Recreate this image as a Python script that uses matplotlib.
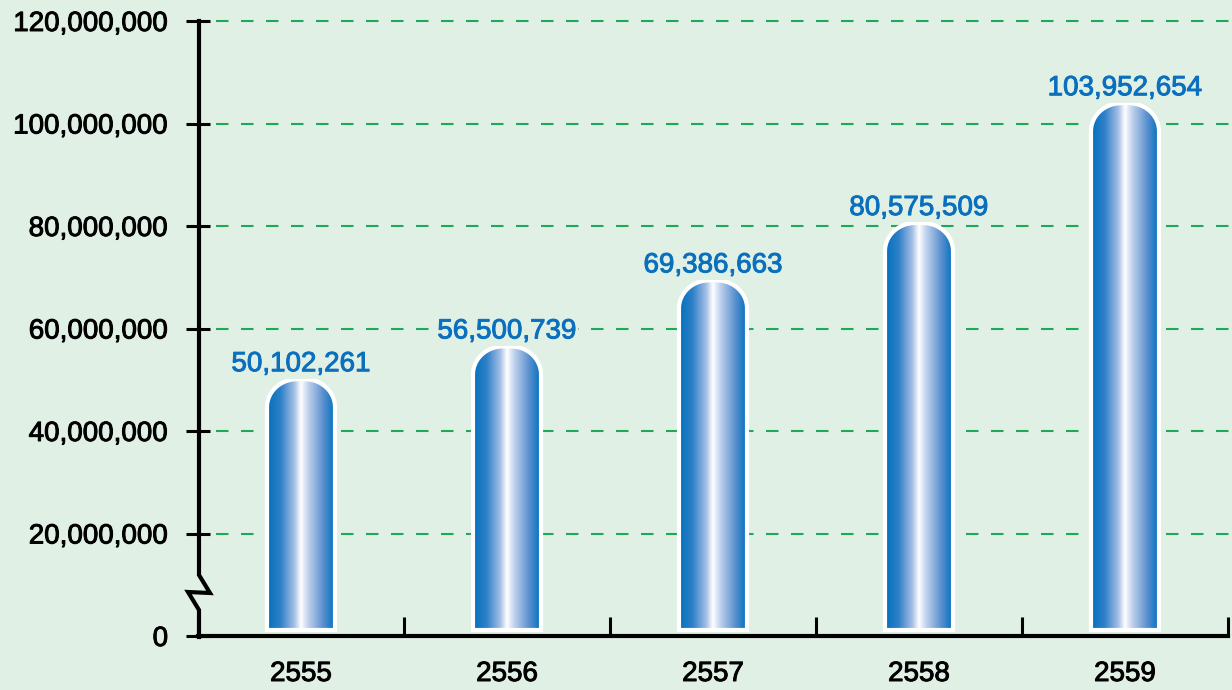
import numpy as np
import matplotlib.pyplot as plt
import matplotlib.patheffects as pe
from matplotlib.path import Path
from matplotlib.patches import PathPatch
from matplotlib.colors import LinearSegmentedColormap
from matplotlib.lines import Line2D

plt.rcParams['font.family'] = ['Liberation Sans', 'DejaVu Sans']

years = ['2555', '2556', '2557', '2558', '2559']
values = [50102261, 56500739, 69386663, 80575509, 103952654]
yticks = [0, 20000000, 40000000, 60000000, 80000000, 100000000, 120000000]

bg = '#e1f0e5'
label_blue = '#0a70bd'
grid_green = '#1fa85a'

W, H = 1232, 690
fig = plt.figure(figsize=(W / 100, H / 100), dpi=100, facecolor=bg)
ax = fig.add_axes([198 / W, (H - 636) / H, 1030 / W, 615 / H])
ax.set_facecolor(bg)

ymax = 120000000
px_y = ymax / 615.0          # data units per pixel (y)
px_x = 5 / 1030.0            # data units per pixel (x)

cmap = LinearSegmentedColormap.from_list('bar', [
    (0.0, '#0070bd'), (0.2, '#2f80c8'), (0.4, '#a4bee4'),
    (0.5, '#ffffff'), (0.6, '#c5d4ee'), (0.82, '#5f92d0'), (1.0, '#0070bd')])
grad = np.linspace(0, 1, 256).reshape(1, -1)

bw = 68 * px_x
rx = 30 * px_x
ry = 28 * px_y
base = 6 * px_y

thick = [pe.withStroke(linewidth=0.7, foreground='black')]

for i, v in enumerate(values):
    x0, x1 = i - bw / 2, i + bw / 2
    t = np.linspace(0, np.pi / 2, 24)
    left = [(x0 + rx - rx * np.cos(a), v - ry + ry * np.sin(a)) for a in t]
    right = [(x1 - rx + rx * np.sin(a), v - ry + ry * np.cos(a)) for a in t]
    verts = [(x0, base)] + left + right + [(x1, base), (x0, base)]
    path = Path(verts, closed=True)
    patch = PathPatch(path, facecolor='none', edgecolor='white', lw=3, zorder=4)
    ax.add_patch(patch)
    im = ax.imshow(grad, extent=[x0, x1, base, v], aspect='auto', cmap=cmap,
                   interpolation='bilinear', zorder=3)
    im.set_clip_path(patch)
    ax.text(i, v + 8 * px_y, f'{v:,}', ha='center', va='baseline',
            color=label_blue, fontsize=20, zorder=5,
            bbox=dict(facecolor=bg, edgecolor='none', pad=1),
            path_effects=[pe.withStroke(linewidth=0.7, foreground=label_blue)])

# dashed gridlines
for yv in yticks[1:]:
    ax.plot([-0.5 + 18 * px_x, 4.5 + 4 * px_x], [yv, yv], color=grid_green,
            lw=1.5, ls=(0, (6, 6)), zorder=1, clip_on=False)

ax.set_xlim(-0.5, 4.5)
ax.set_ylim(0, ymax)
ax.set_yticks(yticks)
ax.set_yticklabels([f'{y:,}' for y in yticks], fontsize=20)
ax.tick_params(axis='y', direction='inout', length=17, width=2.2, pad=13)

ax.set_xticks(np.arange(-0.5, 5, 1))
ax.set_xticklabels([])
ax.tick_params(axis='x', direction='in', length=14, width=2.2)
ax.set_xticks(range(len(years)), minor=True)
ax.set_xticklabels(years, minor=True, fontsize=20)
ax.tick_params(axis='x', which='minor', length=0, pad=18)

for lab in ax.get_yticklabels() + ax.get_xticklabels(minor=True):
    lab.set_path_effects(thick)

for s in ['top', 'right', 'left']:
    ax.spines[s].set_visible(False)
ax.spines['bottom'].set_linewidth(3)

# left axis with break mark
pts = [(199, 21), (199, 575), (210, 593), (188, 592), (199, 610), (199, 637)]
xs = [p[0] / W for p in pts]
ys = [(H - p[1]) / H for p in pts]
fig.add_artist(Line2D(xs, ys, color='black', lw=3, transform=fig.transFigure,
                      solid_joinstyle='miter'))

fig.savefig('out.png', dpi=100, facecolor=bg)
